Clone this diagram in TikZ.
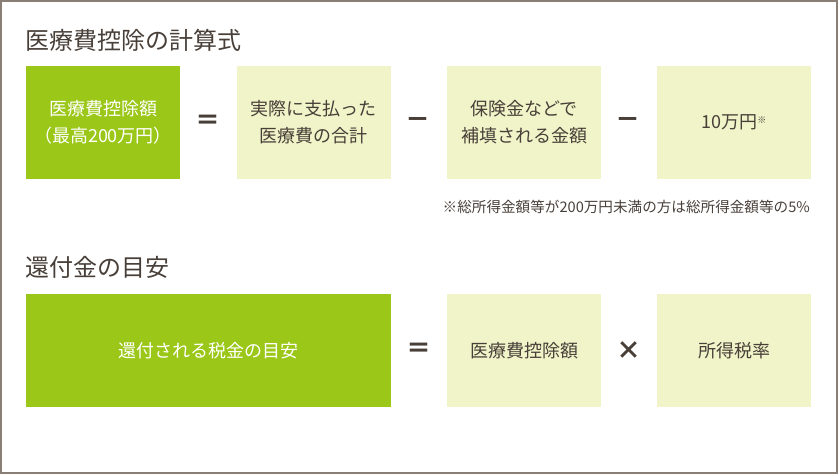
\documentclass[tikz,border=0pt]{standalone}
\usepackage{fontspec}
\setmainfont{Noto Sans CJK JP}
\usetikzlibrary{positioning}
\definecolor{mgreen}{RGB}{155,199,24}
\definecolor{mpale}{RGB}{240,244,200}
\definecolor{mtext}{RGB}{72,63,57}
\definecolor{mframe}{RGB}{138,127,118}

\begin{document}
\begin{tikzpicture}[x=1pt, y=-1pt,
    dark/.style={fill=mgreen, text=white, align=center, inner sep=0pt,
      minimum height=113pt, font=\fontsize{18}{27}\selectfont},
    pale/.style={fill=mpale, text=mtext, align=center, inner sep=0pt,
      minimum width=154pt, minimum height=113pt, font=\fontsize{18}{27}\selectfont},
    oper/.style={text=mtext, inner sep=0pt, font=\fontsize{25}{25}\bfseries},
    heading/.style={text=mtext, anchor=west, inner sep=0pt, font=\fontsize{24}{24}\selectfont}]
    \useasboundingbox (0, 0) rectangle (838, 474);
    \draw [mframe, line width=2pt] (1, 1) rectangle (837, 473);

    % first formula
    \node [heading] (title1) at (25, 40) {医療費控除の計算式};

    \node [dark, minimum width=154pt] (deduct) at (103, 122.5) {医療費控除額\\（最高200万円）};
    \node [oper] (eq1) at (208, 122.5) {＝};
    \node [pale] (paid) at (313.5, 122.5) {実際に支払った\\医療費の合計};
    \node [oper] (minus1) at (418, 122.5) {－};
    \node [pale] (insur) at (524, 122.5) {保険金などで\\補填される金額};
    \node [oper] (minus2) at (628, 122.5) {－};
    \node [pale] (base) at (734, 122.5) {10万円\raisebox{0.5ex}{\fontsize{9}{9}\selectfont ※}};

    \node [text=mtext, anchor=east, inner sep=0pt, font=\fontsize{14.6}{14.6}\selectfont]
      (note) at (810, 207) {※総所得金額等が200万円未満の方は総所得金額等の5\%};

    % second formula
    \node [heading] (title2) at (25, 267) {還付金の目安};

    \node [dark, minimum width=365pt] (refund) at (208.5, 350.5) {還付される税金の目安};
    \node [oper] (eq2) at (419, 350.5) {＝};
    \node [pale] (amount) at (524, 350.5) {医療費控除額};
    \node [oper] (times) at (629, 350.5) {×};
    \node [pale] (rate) at (734, 350.5) {所得税率};
  \end{tikzpicture}
\end{document}
